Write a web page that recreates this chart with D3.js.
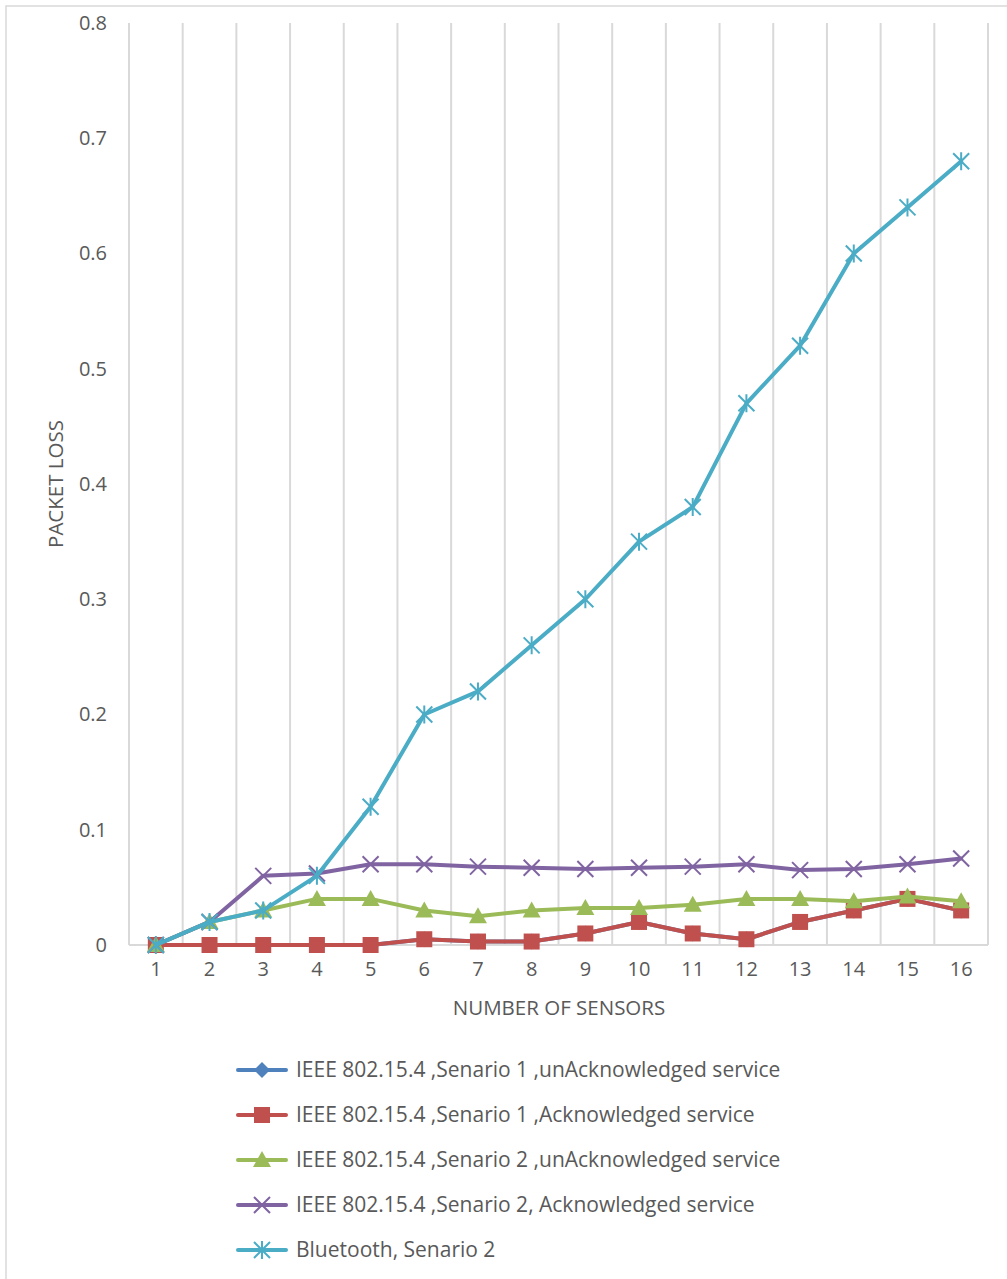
<!DOCTYPE html>
<html>
<head>
<meta charset="utf-8">
<script src="https://cdn.jsdelivr.net/npm/d3@7"></script>
<style>
  html, body { margin: 0; padding: 0; background: #fff; }
  svg { display: block; font-family: "Open Sans", "Liberation Sans", sans-serif; }
</style>
</head>
<body>
<svg id="chart" width="1007" height="1279"></svg>
<script>
// Number of sensors on the x axis
const sensors = [1, 2, 3, 4, 5, 6, 7, 8, 9, 10, 11, 12, 13, 14, 15, 16];

// Packet loss per series
const s1UnAck = [0, 0, 0, 0, 0, 0.005, 0.003, 0.003, 0.01, 0.02, 0.01, 0.005, 0.02, 0.03, 0.04, 0.03];
const s1Ack   = [0, 0, 0, 0, 0, 0.005, 0.003, 0.003, 0.01, 0.02, 0.01, 0.005, 0.02, 0.03, 0.04, 0.03];
const s2UnAck = [0, 0.02, 0.03, 0.04, 0.04, 0.03, 0.025, 0.03, 0.032, 0.032, 0.035, 0.04, 0.04, 0.038, 0.042, 0.038];
const s2Ack   = [0, 0.02, 0.06, 0.062, 0.07, 0.07, 0.068, 0.067, 0.066, 0.067, 0.068, 0.07, 0.065, 0.066, 0.07, 0.075];
const bluetooth = [0, 0.02, 0.03, 0.06, 0.12, 0.2, 0.22, 0.26, 0.3, 0.35, 0.38, 0.47, 0.52, 0.6, 0.64, 0.68];

const seriesNames = [
  "IEEE 802.15.4 ,Senario 1 ,unAcknowledged service",
  "IEEE 802.15.4 ,Senario 1 ,Acknowledged service",
  "IEEE 802.15.4 ,Senario 2 ,unAcknowledged service",
  "IEEE 802.15.4 ,Senario 2, Acknowledged service",
  "Bluetooth, Senario 2"
];
const yTicks = [0, 0.1, 0.2, 0.3, 0.4, 0.5, 0.6, 0.7, 0.8];

const series = [
  { name: seriesNames[0], values: s1UnAck, color: "#4F81BD", marker: "diamond" },
  { name: seriesNames[1], values: s1Ack, color: "#C0504D", marker: "square" },
  { name: seriesNames[2], values: s2UnAck, color: "#9BBB59", marker: "triangle" },
  { name: seriesNames[3], values: s2Ack, color: "#8064A2", marker: "x" },
  { name: seriesNames[4], values: bluetooth, color: "#4BACC6", marker: "star" }
];

const svg = d3.select("#chart");
const textColor = "#595959";
const gridColor = "#d9d9d9";

// Chart frame
svg.append("rect")
  .attr("x", 6).attr("y", 6).attr("width", 1010).attr("height", 1290)
  .attr("fill", "#fff").attr("stroke", "#d9d9d9").attr("stroke-width", 1.5);

const plot = { left: 129, right: 988, top: 23, bottom: 945 };

const x = d3.scaleBand().domain(sensors).range([plot.left, plot.right]);
const y = d3.scaleLinear().domain([0, 0.8]).range([plot.bottom, plot.top]);
const cx = d => x(d) + x.bandwidth() / 2;

// Vertical gridlines between categories
const edges = sensors.map(d => x(d)).concat([plot.right]);
svg.append("g").selectAll("line").data(edges).join("line")
  .attr("x1", d => d).attr("x2", d => d)
  .attr("y1", plot.top).attr("y2", plot.bottom)
  .attr("stroke", gridColor).attr("stroke-width", 2);

// Horizontal axis line
svg.append("line")
  .attr("x1", plot.left).attr("x2", plot.right)
  .attr("y1", plot.bottom).attr("y2", plot.bottom)
  .attr("stroke", gridColor).attr("stroke-width", 2);

// Y axis labels
const yAxis = d3.axisLeft(y).tickValues(yTicks).tickSize(0).tickPadding(22)
  .tickFormat(d => d === 0 ? "0" : d3.format(".1f")(d));
const gy = svg.append("g").attr("transform", `translate(${plot.left},0)`).call(yAxis);
gy.select(".domain").remove();
gy.selectAll("text").attr("fill", textColor).style("font-size", "20px")
  .style("font-family", "'Open Sans', sans-serif");

// X axis labels
const xAxis = d3.axisBottom(x).tickSize(0).tickPadding(17);
const gx = svg.append("g").attr("transform", `translate(0,${plot.bottom})`).call(xAxis);
gx.select(".domain").remove();
gx.selectAll("text").attr("fill", textColor).style("font-size", "20px")
  .style("font-family", "'Open Sans', sans-serif");

// Axis titles
svg.append("text")
  .attr("transform", `translate(63,484) rotate(-90)`)
  .attr("text-anchor", "middle")
  .attr("fill", textColor).style("font-size", "20.5px")
  .text("PACKET LOSS");
svg.append("text")
  .attr("x", 559).attr("y", 1015)
  .attr("text-anchor", "middle")
  .attr("fill", textColor).style("font-size", "20.5px")
  .text("NUMBER OF SENSORS");

// Marker drawing
function drawMarker(g, type, color, px, py) {
  if (type === "diamond") {
    g.append("path").attr("d", `M${px},${py - 8}L${px + 8},${py}L${px},${py + 8}L${px - 8},${py}Z`).attr("fill", color);
  } else if (type === "square") {
    g.append("rect").attr("x", px - 8).attr("y", py - 8).attr("width", 16).attr("height", 16).attr("fill", color);
  } else if (type === "triangle") {
    g.append("path").attr("d", `M${px},${py - 9}L${px + 9},${py + 7}L${px - 9},${py + 7}Z`).attr("fill", color);
  } else if (type === "x") {
    g.append("path").attr("d", `M${px - 8},${py - 8}L${px + 8},${py + 8}M${px + 8},${py - 8}L${px - 8},${py + 8}`)
      .attr("stroke", color).attr("stroke-width", 2).attr("fill", "none");
  } else if (type === "star") {
    g.append("path").attr("d", `M${px - 8},${py - 8}L${px + 8},${py + 8}M${px + 8},${py - 8}L${px - 8},${py + 8}M${px},${py - 9}L${px},${py + 9}`)
      .attr("stroke", color).attr("stroke-width", 2).attr("fill", "none");
  }
}

const line = d3.line().x((d, i) => cx(sensors[i])).y(d => y(d));

series.forEach(s => {
  const g = svg.append("g");
  g.append("path").datum(s.values).attr("d", line)
    .attr("fill", "none").attr("stroke", s.color).attr("stroke-width", 4)
    .attr("stroke-linejoin", "round").attr("stroke-linecap", "round");
  s.values.forEach((v, i) => drawMarker(g, s.marker, s.color, cx(sensors[i]), y(v)));
});

// Legend
const legendTop = 1070, legendStep = 45;
series.forEach((s, i) => {
  const ly = legendTop + i * legendStep;
  const g = svg.append("g");
  g.append("line").attr("x1", 238).attr("x2", 286).attr("y1", ly).attr("y2", ly)
    .attr("stroke", s.color).attr("stroke-width", 4).attr("stroke-linecap", "round");
  drawMarker(g, s.marker, s.color, 262, ly);
  g.append("text").attr("x", 296).attr("y", ly).attr("dy", "0.35em")
    .attr("fill", textColor).style("font-size", "21px").text(s.name);
});
</script>
</body>
</html>
